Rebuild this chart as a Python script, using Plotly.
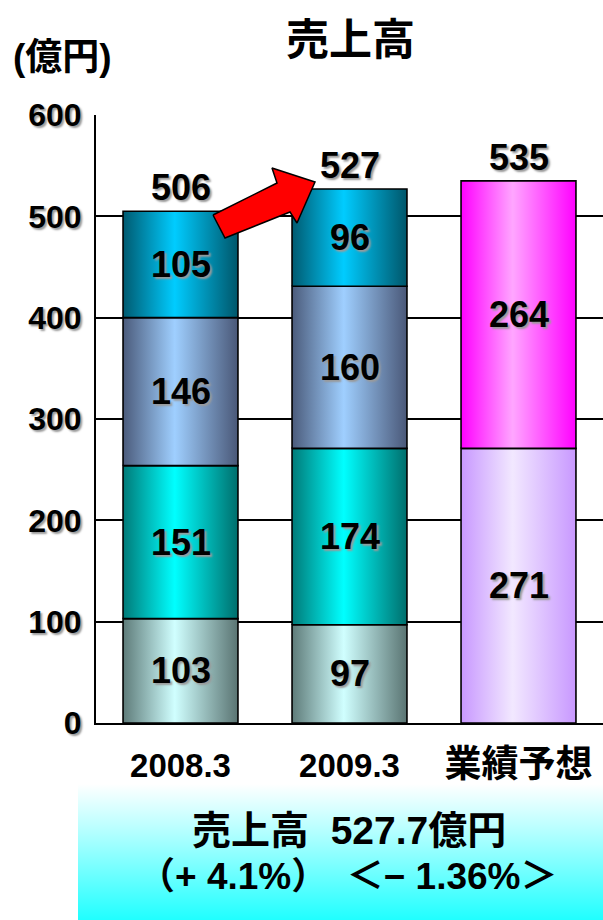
import plotly.graph_objects as go

# ---- data -------------------------------------------------------------
categories = ["2008.3", "2009.3", "業績予想"]
# stacked segments, bottom to top (億円)
seg_2008 = [103, 151, 146, 105]
seg_2009 = [97, 174, 160, 96]
seg_forecast = [271, 264]
totals = [506, 527, 535]
y_ticks = [0, 100, 200, 300, 400, 500, 600]

summary_line1 = "売上高  527.7億円"
summary_line2 = "（+ 4.1%）　＜− 1.36%＞"

# ---- styling -----------------------------------------------------------
W, H = 603, 920
FONT = "Liberation Sans, Arial, Noto Sans CJK JP, sans-serif"
SHADOW = "2px 2px 2px #9a9a9a"

# horizontal gradients: edge -> highlight -> edge
grad_actual = [
    ("#5e7b79", "#d0ffff", "#5a7472"),
    ("#007a78", "#00ffff", "#006e6c"),
    ("#4b5b7b", "#9fcfff", "#4a5878"),
    ("#005a70", "#00ccff", "#00566a"),
]
grad_forecast = [
    ("#c898ff", "#f2e8ff", "#c898ff"),
    ("#ff00ff", "#ffa6ff", "#ff00ff"),
]

stacks = [(seg_2008, grad_actual), (seg_2009, grad_actual), (seg_forecast, grad_forecast)]
half_w = 0.34

# plot area in pixels
px_left, px_right = 96, 603
px_top, px_bottom = 115, 723

fig = go.Figure()
annotations = []

for i, (segs, grads) in enumerate(stacks):
    base = 0
    for v, (c0, c1, c2) in zip(segs, grads):
        fig.add_trace(go.Scatter(
            x=[i - half_w, i + half_w, i + half_w, i - half_w, i - half_w],
            y=[base, base, base + v, base + v, base],
            mode="lines",
            fill="toself",
            fillgradient=dict(type="horizontal",
                              colorscale=[[0, c0], [0.45, c1], [1, c2]]),
            line=dict(color="black", width=1.6),
            hoverinfo="skip",
            showlegend=False,
            xaxis="x", yaxis="y",
        ))
        annotations.append(dict(
            x=i, y=base + v / 2, xref="x", yref="y", text=str(v),
            showarrow=False,
            font=dict(family=FONT, size=36, color="black", weight="bold", shadow=SHADOW),
        ))
        base += v
    annotations.append(dict(
        x=i, y=base, xref="x", yref="y", text=str(totals[i]),
        showarrow=False, yanchor="bottom", yshift=1,
        font=dict(family=FONT, size=36, color="black", weight="bold", shadow=SHADOW),
    ))

# pixel-space overlay: summary panel (white fading to cyan downwards) and growth arrow
panel_x = [78, W, W, 78, 78]
panel_y = [784, 784, H, H, 784]
fig.add_trace(go.Scatter(
    x=panel_x, y=panel_y, mode="lines", fill="toself",
    fillgradient=dict(type="vertical",
                      colorscale=[[0, "#20ffff"], [0.65, "#b4ffff"], [1, "#ffffff"]]),
    line=dict(width=0), hoverinfo="skip", showlegend=False,
    xaxis="x2", yaxis="y2",
))
arrow_x = [213, 277, 272, 315, 297, 290, 225, 213]
arrow_y = [215, 183, 168, 182, 223, 212, 238, 215]
fig.add_trace(go.Scatter(
    x=arrow_x, y=arrow_y, mode="lines", fill="toself", fillcolor="#ff0000",
    line=dict(color="black", width=1.5), hoverinfo="skip", showlegend=False,
    xaxis="x2", yaxis="y2",
))

# titles and summary text (pixel positions -> paper fractions)
def px(xp, yp):
    return xp / W, 1 - yp / H

for text, (xp, yp), size in [
    ("売上高", (350, 40), 43),
    ("(億円)", (62, 58), 37),
    (summary_line1, (349, 830), 39),
    (summary_line2, (348, 876), 37),
]:
    xx, yy = px(xp, yp)
    annotations.append(dict(
        x=xx, y=yy, xref="paper", yref="paper", text=text, showarrow=False,
        xanchor="center", yanchor="middle",
        font=dict(family=FONT, size=size, color="black", weight="bold"),
    ))

tick_text = [c if c[0].isdigit() else f'<span style="font-size:37px">{c}</span>'
             for c in categories]

fig.update_layout(
    template="none",
    width=W, height=H, autosize=False,
    margin=dict(l=0, r=0, t=0, b=0, pad=0, autoexpand=False),
    paper_bgcolor="white", plot_bgcolor="rgba(0,0,0,0)",
    showlegend=False,
    annotations=annotations,
    xaxis=dict(
        domain=[px_left / W, px_right / W],
        range=[-0.5, 2.5],
        tickmode="array", tickvals=list(range(len(categories))), ticktext=tick_text,
        showgrid=False, zeroline=False, automargin=False,
        showline=True, linecolor="black", linewidth=2,
        ticks="", ticklabelstandoff=12,
        tickfont=dict(family=FONT, size=33, color="black", weight="bold"),
        fixedrange=True,
    ),
    yaxis=dict(
        domain=[1 - px_bottom / H, 1 - px_top / H],
        range=[0, 600],
        tickmode="array", tickvals=y_ticks,
        showgrid=True, gridcolor="black", gridwidth=1.5,
        zeroline=False, automargin=False,
        showline=True, linecolor="black", linewidth=2,
        ticks="", ticklabelstandoff=6,
        tickfont=dict(family=FONT, size=32, color="black", weight="bold", shadow=SHADOW),
        fixedrange=True,
    ),
    xaxis2=dict(domain=[0, 1], range=[0, W], visible=False, anchor="y2",
                automargin=False, fixedrange=True),
    yaxis2=dict(domain=[0, 1], range=[H, 0], visible=False, anchor="x2",
                automargin=False, fixedrange=True),
)

fig.write_html("out.html", config={"displayModeBar": False})
